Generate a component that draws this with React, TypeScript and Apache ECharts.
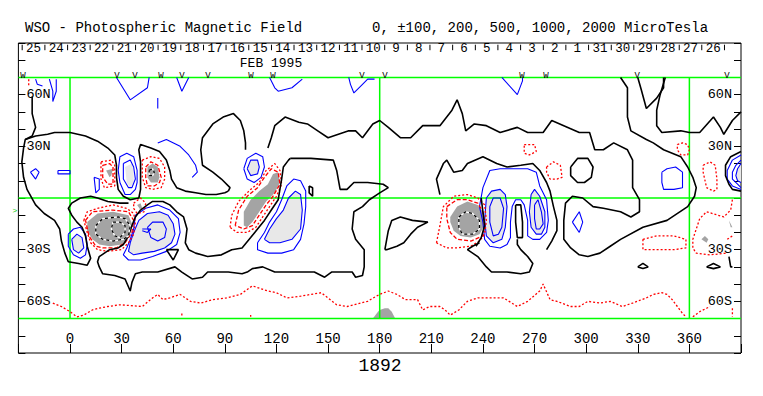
import React, { useEffect, useRef } from "react";
import * as echarts from "echarts";

const MONO = '"Liberation Mono", "DejaVu Sans Mono", monospace';

// ---- axes ----
const lonMin = -30;
const lonMax = 390;
const lonStep = 30;
const latMin = -90;
const latMax = 90;
const latStep = 10;
const lonLabels = [0, 30, 60, 90, 120, 150, 180, 210, 240, 270, 300, 330, 360];
const latLabelValues = [60, 30, -30, -60];
const latLabelTexts = ["60N", "30N", "30S", "60S"];
const greenLats = [70, 0, -70];
const greenLons = [0, 180, 360];

// ---- top date scale (Carrington rotation 1892) ----
const dateLabels = ["25", "24", "23", "22", "21", "20", "19", "18", "17", "16", "15", "14", "13", "12", "11", "10", "9", "8", "7", "6", "5", "4", "3", "2", "1", "31", "30", "29", "28", "27", "26"];
const dateLons = [-21.2, -8.0, 5.2, 18.3, 31.5, 44.7, 57.8, 71.0, 84.2, 97.3, 110.5, 123.7, 136.8, 150.0, 163.2, 176.3, 189.5, 202.7, 215.8, 229.0, 242.2, 255.3, 268.5, 281.7, 294.8, 308.0, 321.2, 334.3, 347.5, 360.7, 373.8];
const dateSepLons = [-27.8, -14.6, -1.4, 11.7, 24.9, 38.1, 51.2, 64.4, 77.6, 90.7, 103.9, 117.1, 130.2, 143.4, 156.6, 169.7, 182.9, 196.1, 209.2, 222.4, 235.6, 248.7, 261.9, 275.1, 288.2, 301.4, 314.6, 327.7, 340.9, 354.1, 367.2, 380.4];
const dateLabelLat = 86.5;
const dateSepLat = [85.8, 89.0];
const markerLetters = ["W", "V", "V", "W", "V", "V", "W", "W", "V", "V", "W", "W", "V", "V"];
const markerLons = [-27.3, 27.3, 37.8, 52.9, 65.1, 80.2, 105.2, 118.0, 169.7, 183.1, 262.7, 276.7, 329.6, 381.9];
const markerLat = 71.1;

// ---- zero-field contours (black) ----
const K1 = [[-22,59],[-22,49],[-20,41],[-22,36],[-26,34],[-27,29],[-28,21],[-27,12],[-25,5],[-20,-4],[-15,-9],[-9,-13],[-6,-18],[-5,-25],[-3,-32],[-1,-37],[5,-38],[10,-39],[12,-35],[10,-28],[9,-22],[7,-17],[4,-14],[1,-10],[-1,-6],[1,-3],[6,0],[12,1],[16,0],[22,-2],[29,-3],[34,-3]];
const K2 = [[-26,34],[-20,36],[-13,37],[-9,38],[0,38],[9,36],[16,33],[22,29],[26,25],[27,19],[27,12],[28,5],[31,1],[35,-1],[40,0],[41,5],[41,13],[41,21],[40,28],[41,31],[47,29],[52,27],[56,22],[58,16],[59,11],[62,6],[67,4],[73,3],[79,2],[85,2],[90,3],[92,4]];
const Kn1 = [[102,28],[102,32],[101,39],[99,45],[95,49],[89,47],[83,43],[77,35],[76,28],[77,19],[83,15],[88,11],[93,6],[92,4]];
const Ks1 = [[41,-7],[45,-4],[48,-2],[54,-2],[58,-4],[62,-8],[66,-11],[68,-18],[67,-26],[69,-30],[73,-32],[80,-34],[88,-33],[94,-30],[100,-29],[105,-23],[109,-18],[113,-13],[117,-7],[121,-1],[122,5],[123,11],[124,18],[127,22],[128,23]];
const Kbig = [[41,-7],[38,-11],[36,-16],[34,-22],[31,-27],[28,-29],[23,-30],[20,-32],[17,-34],[16,-37],[17,-40],[19,-44],[26,-45],[32,-47],[35,-54],[36,-49],[38,-44],[42,-43],[51,-43],[61,-40],[65,-43],[71,-47],[77,-46],[80,-43],[84,-43],[92,-43],[100,-44],[103,-43],[106,-41],[112,-40],[119,-43],[127,-43],[135,-43],[142,-43],[148,-46],[152,-43],[160,-43],[164,-43],[166,-46],[170,-45],[171,-40],[171,-30],[166,-24],[164,-18],[165,-8],[170,-5],[174,-1],[180,3],[185,6],[182,8],[173,9],[165,9],[161,5],[157,5],[155,16],[153,22],[140,23],[134,23],[128,23]];
const KnTop = [[115,29],[117,35],[119,42],[125,47],[133,44],[138,43],[144,39],[150,35],[156,37],[162,39],[166,39],[170,35],[176,43],[180,45],[185,41],[192,35],[198,35],[205,42],[215,42],[222,51],[225,57],[228,49],[230,39],[235,43],[242,42],[250,38],[260,41],[266,38],[275,38],[280,45],[287,42],[296,38],[302,38],[305,28],[310,28],[316,32],[324,28],[327,22],[327,6],[331,-1],[331,-8],[326,-11],[320,-8],[310,-6],[304,-5],[298,0],[292,1],[288,-3],[287,-13],[287,-24],[291,-29],[296,-33],[301,-34],[308,-32],[314,-28],[320,-24],[333,-17],[347,-13],[359,-5],[363,1],[364,6],[362,12],[359,18],[355,24],[345,28],[339,32],[335,34],[326,39],[324,47],[324,64],[320,70]];
const KnV = [[330,70],[332,63],[335,52],[341,58],[345,64],[345,70]];
const KnR = [[346,70],[343,60],[341,51],[341,42],[344,38],[355,39],[360,38],[366,38],[374,47],[378,41],[380,37],[385,45],[390,50]];
const Kre = [[390,27],[384,24],[381,19],[381,13],[383,8],[385,5],[390,4]];
const Kcircle = [[291,18],[295,23],[301,23],[304,18],[303,12],[299,9],[295,9],[291,13],[291,18]];
const Kloop = [[183,-30],[185,-19],[187,-13],[192,-11],[199,-13],[208,-14],[202,-17],[198,-21],[194,-26],[190,-28],[184,-30],[183,-30]];
const K3s = [[215,2],[213,11],[217,20],[219,22],[223,15],[228,16],[231,20],[240,24],[248,20],[254,18],[262,19],[269,20],[273,16],[277,9],[279,4],[281,-5],[283,-13],[283,-19],[280,-25],[277,-30]];
const K3b = [[260,-24],[260,-27],[262,-30],[266,-34],[269,-38],[267,-43],[262,-44],[254,-43],[245,-43],[242,-40],[237,-34],[231,-30],[234,-28],[238,-26]];
const K3narrow = [[259,-4],[262,-4],[263,-14],[263,-23],[260,-23],[259,-14],[259,-4]];
const K3z = [[239,0],[240,-8],[241,-16],[239,-23],[236,-28]];
const Ksl1 = [[330,-40],[333,-38],[336,-40],[333,-41],[330,-40]];
const Ksl2 = [[370,-40],[374,-38],[378,-40],[374,-41],[370,-40]];
const Ksl3 = [[383,-34],[384,-40],[385,-40]];
const Ktiny = [[139,7],[141,6],[141,1],[139,3],[139,7]];
const Ktri = [[56,-30],[63,-30],[60,-36],[56,-30]];
const zeroLines = [K1, K2, Kn1, Ks1, Kbig, KnTop, KnV, KnR, Kre, Kcircle, Kloop, K3s, K3b, K3narrow, K3z, Ksl1, Ksl2, Ksl3, Ktiny, Ktri];

// ---- positive contours (blue) ----
const Bt1 = [[27,70],[35,57],[45,64],[46,70]];
const Bt2 = [[62,70],[65,62],[69,70]];
const Bt3 = [[116,70],[119,64],[121,62],[129,64],[135,69]];
const Bt4 = [[162,70],[163,66],[165,61],[170,66],[173,69],[177,69]];
const Bt5 = [[-12,69],[-10,62],[-10,56],[-8,62],[-8,69]];
const Bt5b = [[-20,69],[-19,66],[-16,65]];
const Bt6 = [[51,58],[51,52]];
const Bt7 = [[251,70],[260,60],[263,68],[263,70]];
const Bl1 = [[-23,15],[-20,17],[-18,15],[-20,11],[-23,15]];
const Bl2 = [[-7,16],[0,16],[0,14],[-7,14],[-7,16]];
const Bl3 = [[14,12],[15,3],[17,5],[17,11],[14,12]];
const BN1outer = [[29,24],[33,26],[37,24],[39,16],[39,9],[38,5],[35,2],[32,2],[29,9],[28,16],[29,24]];
const BN1inner = [[31,20],[35,22],[37,18],[38,11],[36,6],[34,6],[31,11],[31,20]];
const BN1arc = [[51,32],[56,34],[64,30],[69,25],[73,19],[74,15],[71,12]];
const BS1outer = [[38,-10],[44,-6],[51,-4],[58,-7],[63,-12],[64,-20],[62,-27],[56,-31],[48,-34],[41,-36],[34,-36],[31,-33],[33,-29],[35,-24],[37,-18],[38,-10]];
const BS1mid = [[40,-13],[45,-9],[52,-8],[57,-10],[60,-15],[61,-21],[59,-26],[55,-29],[49,-31],[42,-32],[37,-33],[34,-31],[35,-26],[37,-20],[40,-13]];
const BS1inner = [[45,-17],[48,-14],[54,-14],[56,-18],[55,-23],[51,-25],[47,-23],[45,-17]];
const BS1tiny = [[42,-18],[47,-18],[45,-20],[42,-19]];
const BLouter = [[-1,-21],[2,-18],[6,-17],[9,-21],[10,-27],[9,-33],[6,-35],[2,-33],[-1,-28],[-1,-21]];
const BLinner = [[1,-24],[4,-21],[7,-23],[8,-29],[5,-32],[2,-30],[1,-24]];
const BN2outer = [[101,17],[103,23],[108,26],[112,24],[113,18],[111,12],[107,9],[103,11],[101,17]];
const BN2inner = [[103,17],[105,22],[109,22],[110,18],[109,14],[105,13],[103,17]];
const BS2outer = [[109,-26],[113,-20],[116,-14],[120,-8],[123,-1],[126,7],[130,11],[134,10],[137,4],[137,-5],[136,-15],[134,-24],[130,-30],[123,-32],[115,-32],[109,-30],[109,-26]];
const BS2inner = [[113,-24],[116,-18],[120,-12],[124,-7],[127,0],[131,4],[134,2],[135,-7],[134,-18],[129,-24],[122,-26],[116,-26],[113,-24]];
const BS3outer = [[240,6],[244,16],[250,17],[266,17],[271,15],[273,7],[277,-1],[278,-13],[277,-20],[273,-24],[269,-24],[266,-22],[266,-13],[264,-4],[262,-1],[259,-1],[257,-5],[256,-14],[256,-23],[254,-27],[250,-29],[244,-28],[241,-24],[240,-14],[238,-5],[240,6]];
const BS3L2 = [[242,0],[245,4],[250,5],[253,2],[254,-5],[253,-17],[251,-24],[246,-26],[242,-22],[241,-13],[242,0]];
const BS3L3 = [[244,-5],[246,0],[250,0],[252,-6],[251,-17],[249,-21],[246,-22],[244,-14],[244,-5]];
const BS3R2 = [[268,2],[270,5],[273,1],[276,-8],[276,-17],[274,-21],[271,-21],[268,-17],[267,-8],[268,2]];
const BS3R3 = [[270,-4],[272,-1],[274,-8],[275,-15],[273,-18],[271,-18],[270,-12],[270,-4]];
const Bdiamond = [[292,-14],[296,-8],[298,-14],[296,-20],[292,-14]];
const Bloop = [[344,15],[347,17],[352,18],[356,15],[356,6],[351,5],[345,5],[344,9],[344,15]];
const BreOuter = [[390,25],[385,22],[382,16],[382,11],[385,7],[390,5]];
const BreMid = [[390,22],[387,19],[385,15],[385,11],[388,8],[390,6]];
const BreInner = [[390,20],[388,17],[387,13],[388,10],[390,9]];
const positiveLines = [Bt1, Bt2, Bt3, Bt4, Bt5, Bt5b, Bt6, Bt7, Bl1, Bl2, Bl3, BN1outer, BN1inner, BN1arc, BS1outer, BS1mid, BS1inner, BS1tiny, BLouter, BLinner, BN2outer, BN2inner, BS2outer, BS2inner, BS3outer, BS3L2, BS3L3, BS3R2, BS3R3, Bdiamond, Bloop, BreOuter, BreMid, BreInner];

// ---- negative contours (red) ----
const RN1outer = [[42,22],[47,24],[52,23],[55,18],[55,11],[53,6],[48,5],[44,6],[42,12],[42,18],[42,22]];
const RNLouter = [[18,21],[24,22],[26,19],[26,7],[20,6],[18,11],[18,21]];
const Rsmall = [[37,-3],[41,0],[44,-3],[43,-8],[39,-9],[37,-6],[37,-3]];
const RS1outer = [[8,-13],[10,-8],[16,-6],[25,-4],[33,-6],[37,-9],[38,-14],[37,-21],[34,-26],[30,-30],[22,-31],[16,-30],[12,-26],[10,-20],[8,-13]];
const RS2outer = [[93,-17],[94,-10],[98,-2],[105,5],[110,9],[114,16],[119,20],[122,16],[123,8],[120,1],[116,-5],[112,-11],[108,-17],[103,-20],[97,-20],[93,-17]];
const RS3outer = [[213,-26],[215,-16],[217,-5],[223,1],[231,2],[237,0],[241,-4],[242,-13],[241,-21],[238,-25],[233,-28],[225,-29],[219,-29],[213,-26]];
const Ra = [[264,31],[267,31],[270,31],[271,27],[267,25],[264,26],[264,31]];
const Rb = [[277,18],[281,21],[285,19],[286,12],[283,11],[279,11],[277,15],[277,18]];
const Rc = [[353,31],[356,32],[359,31],[360,28],[359,25],[355,25],[353,28],[353,31]];
const Rd = [[368,19],[372,21],[375,19],[376,11],[376,5],[374,4],[370,6],[368,15],[368,19]];
const Re = [[385,-1],[384,-7],[380,-11],[370,-8],[366,-12],[362,-24],[362,-29],[364,-32],[372,-33],[382,-32]];
const Rf = [[333,-24],[341,-22],[351,-22],[358,-24],[358,-29],[351,-30],[341,-30],[333,-30],[333,-27],[333,-24]];
const Rg = [[382,-24],[385,-22]];
const Rtl = [[-24,69],[-24,65]];
const Rsouth = [[-10,-61],[-5,-63],[0,-66],[4,-69],[8,-68],[13,-65],[17,-64],[22,-63],[29,-62],[42,-63],[48,-58],[51,-56],[54,-59],[58,-58],[64,-56],[70,-60],[76,-61],[83,-59],[91,-58],[99,-56],[106,-51],[115,-54],[120,-55],[126,-58],[134,-57],[146,-55],[155,-62],[161,-63],[173,-60],[178,-57],[180,-56],[185,-54],[190,-56],[195,-59],[199,-59],[202,-59],[205,-65],[209,-63],[215,-63],[218,-65],[221,-68],[226,-65],[231,-60],[237,-58],[244,-58],[252,-58],[260,-63],[266,-60],[273,-54],[275,-50],[279,-59],[283,-60],[291,-63],[296,-63],[301,-60],[308,-61],[314,-60],[321,-63],[327,-61],[335,-58],[339,-56],[344,-55],[347,-56],[350,-59],[353,-63],[356,-67],[358,-69]];
const Rsouth2 = [[362,-69],[366,-66],[370,-64],[372,-63]];
const Rsouth3 = [[385,-64],[385,-69]];
const Rtick1 = [[65,-67],[65,-69]];
const Rtick2 = [[105,-68],[105,-69]];
const negativeOuterLines = [RN1outer, RNLouter, Rsmall, RS1outer, RS2outer, RS3outer, Ra, Rb, Rc, Rd, Re, Rf, Rg, Rtl, Rsouth, Rsouth2, Rsouth3, Rtick1, Rtick2];

const RN1inner = [[44,18],[47,21],[51,19],[53,12],[52,9],[49,7],[45,7],[44,12],[44,18]];
const RNLinner = [[19,19],[23,20],[25,18],[25,8],[22,8],[19,12],[19,19]];
const RS1inner = [[9,-13],[13,-8],[25,-7],[34,-8],[37,-13],[36,-20],[32,-26],[27,-29],[19,-29],[15,-28],[11,-22],[9,-13]];
const RS2inner = [[96,-16],[98,-7],[103,1],[109,6],[113,12],[117,17],[121,15],[122,8],[118,1],[114,-4],[110,-10],[106,-16],[101,-18],[96,-16]];
const RS3inner = [[219,-5],[225,-1],[231,-1],[237,-3],[240,-8],[241,-16],[240,-22],[233,-25],[225,-24],[221,-20],[219,-12],[219,-5]];
const negativeInnerLines = [RN1inner, RNLinner, RS1inner, RS2inner, RS3inner];

// ---- strong field areas ----
const darkFills = [
  [[45,18],[48,20],[51,18],[52,12],[51,9],[47,9],[45,12]],
  [[21,16],[25,17],[24,13],[23,12]],
  [[39,-4],[41,-3],[42,-6],[41,-7]],
  [[10,-14],[16,-9],[25,-8],[34,-10],[36,-15],[34,-23],[30,-27],[23,-28],[17,-27],[13,-24],[10,-19]],
  [[101,-16],[101,-8],[105,-1],[110,4],[115,8],[118,14],[121,15],[122,9],[119,3],[114,-2],[110,-8],[106,-14],[103,-17]],
  [[221,-11],[225,-5],[231,-2],[237,-4],[240,-8],[241,-16],[238,-21],[233,-23],[227,-22],[223,-19],[221,-14]],
  [[176,-70],[179,-66],[180,-65],[183,-64],[185,-64],[187,-66],[189,-70]],
  [[367,-24],[369,-22],[371,-24],[370,-26]],
  [[383,-13],[385,-17],[384,-17]],
];
const lightFills = [
  [[32,18],[36,20],[37,15],[37,9],[35,6],[33,9]],
  BS1mid,
  BLinner,
  BN2inner,
  BS2inner,
  BS3L2,
  BS3R2,
  [[390,20],[388,17],[387,13],[388,10],[390,9]],
];
const strongNegLines = [
  [[15,-16],[19,-12],[28,-11],[32,-12],[35,-16],[34,-22],[31,-24],[25,-25],[19,-24],[15,-21],[15,-16]],
  [[25,-14],[29,-14],[32,-16],[32,-20],[29,-23],[26,-22],[24,-18],[25,-14]],
  [[226,-11],[230,-8],[234,-9],[238,-13],[238,-18],[234,-21],[228,-21],[226,-17],[226,-11]],
  [[46,16],[48,17],[49,15],[48,13],[46,13],[46,16]],
];

function lineSeries(data: number[][], color: string, width: number, type: any, z: number) {
  return {
    type: "line",
    data,
    symbol: "none",
    showSymbol: false,
    silent: true,
    clip: true,
    z,
    lineStyle: { color, width, type },
  };
}

function fillSeries(polys: number[][][], color: string, z: number) {
  return {
    type: "custom",
    silent: true,
    clip: true,
    z,
    data: polys.map((p) => p[0]),
    renderItem: (params: any, api: any) => {
      const poly = polys[params.dataIndex];
      return {
        type: "polygon",
        shape: { points: poly.map((pt) => api.coord(pt)) },
        style: { fill: color },
      };
    },
  };
}

function textSeries(lons: number[], lat: number, texts: string[], fontSize: number) {
  return {
    type: "custom",
    silent: true,
    clip: false,
    z: 7,
    data: lons.map((l) => [l, lat]),
    renderItem: (params: any, api: any) => {
      const i = params.dataIndex;
      const p = api.coord([lons[i], lat]);
      return {
        type: "text",
        x: p[0],
        y: p[1],
        style: { text: texts[i], fill: "#000", fontSize, fontFamily: MONO, align: "center", verticalAlign: "middle" },
      };
    },
  };
}

function buildOption() {
  const series: any[] = [];
  series.push(fillSeries(darkFills, "#a4a4a4", 1));
  series.push(fillSeries(lightFills, "#e8e8e8", 1));
  greenLats.forEach((lat) => series.push(lineSeries([[lonMin, lat], [lonMax, lat]], "#00ff00", 1.5, "solid", 2)));
  greenLons.forEach((lon) => series.push(lineSeries([[lon, -70], [lon, 70]], "#00ff00", 1.5, "solid", 2)));
  positiveLines.forEach((l) => series.push(lineSeries(l, "#0000ff", 1.1, "solid", 3)));
  negativeOuterLines.forEach((l) => series.push(lineSeries(l, "#ff0000", 1.3, [2, 2], 3)));
  negativeInnerLines.forEach((l) => series.push(lineSeries(l, "#ff0000", 1.3, [4, 2], 3)));
  zeroLines.forEach((l) => series.push(lineSeries(l, "#000000", 1.6, "solid", 4)));
  strongNegLines.forEach((l) => {
    series.push(lineSeries(l, "#ffffff", 1.3, "solid", 5));
    series.push(lineSeries(l, "#000000", 1.3, [3, 3], 6));
  });
  // date separators
  series.push({
    type: "custom",
    silent: true,
    clip: false,
    z: 7,
    data: dateSepLons.map((l) => [l, dateSepLat[0]]),
    renderItem: (params: any, api: any) => {
      const lon = dateSepLons[params.dataIndex];
      const a = api.coord([lon, dateSepLat[0]]);
      const b = api.coord([lon, dateSepLat[1]]);
      return { type: "line", shape: { x1: a[0], y1: a[1], x2: b[0], y2: b[1] }, style: { stroke: "#000", lineWidth: 1 } };
    },
  });
  series.push(textSeries(dateLons, dateLabelLat, dateLabels, 12.5));
  series.push(textSeries(markerLons, markerLat, markerLetters, 9));

  const latFormatter = (v: number) => {
    const i = latLabelValues.indexOf(v);
    return i >= 0 ? latLabelTexts[i] : "";
  };

  return {
    animation: false,
    backgroundColor: "#ffffff",
    grid: { left: 18.4, right: 22, top: 43, bottom: 43, show: true, borderColor: "#000", borderWidth: 1, backgroundColor: "transparent" },
    xAxis: {
      type: "value",
      position: "bottom",
      min: lonMin,
      max: lonMax,
      interval: lonStep,
      axisLine: { show: false, onZero: false },
      splitLine: { show: false },
      axisTick: { show: true, inside: true, length: 9, lineStyle: { color: "#000", width: 1 } },
      axisLabel: {
        inside: true,
        margin: 7,
        color: "#000",
        fontFamily: MONO,
        fontSize: 14,
        formatter: (v: number) => (lonLabels.indexOf(v) >= 0 ? String(v) : ""),
      },
    },
    yAxis: [
      {
        type: "value",
        position: "left",
        min: latMin,
        max: latMax,
        interval: latStep,
        axisLine: { show: false, onZero: false },
        splitLine: { show: false },
        axisTick: { show: true, inside: true, length: 7, lineStyle: { color: "#000", width: 1 } },
        axisLabel: { inside: true, margin: 8, color: "#000", fontFamily: MONO, fontSize: 13.5, formatter: latFormatter },
      },
      {
        type: "value",
        position: "right",
        min: latMin,
        max: latMax,
        interval: latStep,
        axisLine: { show: false, onZero: false },
        splitLine: { show: false },
        axisTick: { show: true, inside: true, length: 7, lineStyle: { color: "#000", width: 1 } },
        axisLabel: { inside: true, margin: 9, color: "#000", fontFamily: MONO, fontSize: 13.5, formatter: latFormatter },
      },
    ],
    graphic: [
      { type: "text", x: 25, y: 28, style: { text: "WSO - Photospheric Magnetic Field", fill: "#000", fontSize: 14, fontFamily: MONO, verticalAlign: "middle" } },
      { type: "text", x: 372, y: 28, style: { text: "0, ±100, 200, 500, 1000, 2000 MicroTesla", fill: "#000", fontSize: 14, fontFamily: MONO, verticalAlign: "middle" } },
      { type: "text", x: 271, y: 63.2, style: { text: "FEB 1995", fill: "#000", fontSize: 13, fontFamily: MONO, align: "center", verticalAlign: "middle" } },
      { type: "text", x: 380, y: 366, style: { text: "1892", fill: "#000", fontSize: 18, fontFamily: MONO, align: "center", verticalAlign: "middle" } },
      { type: "text", x: 15, y: 210, style: { text: ">", fill: "#00cc00", fontSize: 8, fontFamily: MONO, align: "center", verticalAlign: "middle" } },
    ],
    series,
  };
}

export default function App() {
  const ref = useRef<HTMLDivElement>(null);
  useEffect(() => {
    if (!ref.current) return;
    const chart = echarts.init(ref.current, null, { renderer: "svg" });
    chart.setOption(buildOption() as any);
    return () => chart.dispose();
  }, []);
  return (
    <div
      ref={ref}
      style={{ position: "fixed", left: 0, top: 0, width: 763, height: 396, background: "#fff" }}
    />
  );
}
